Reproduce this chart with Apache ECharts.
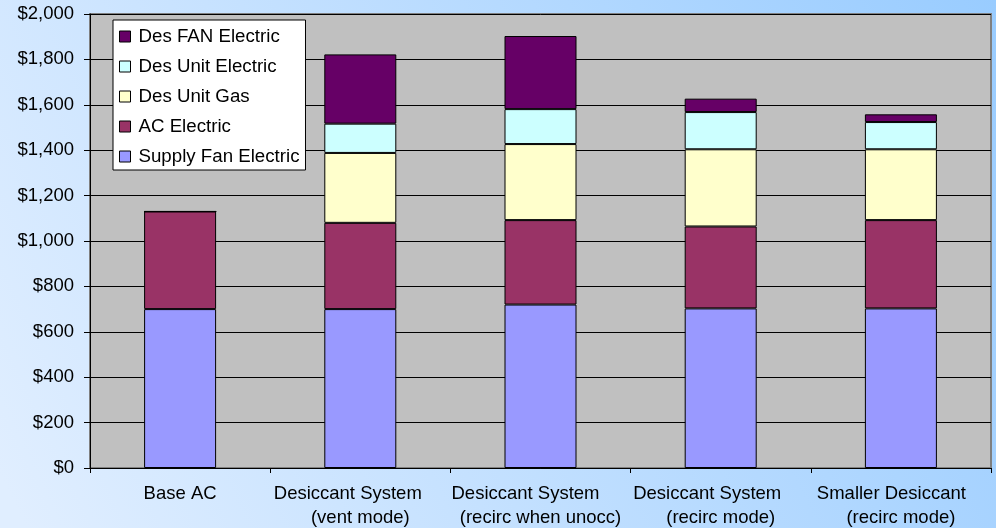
<!DOCTYPE html>
<html>
<head>
<meta charset="utf-8">
<script src="https://cdn.jsdelivr.net/npm/echarts@6/dist/echarts.min.js"></script>
<style>
html,body{margin:0;padding:0;}
#c{width:996px;height:528px;}
</style>
</head>
<body>
<div id="c"></div>
<script>
// ---- data ----
var categoryLine1 = ['Base AC', 'Desiccant System', 'Desiccant System', 'Desiccant System', 'Smaller Desiccant'];
var categoryLine2 = ['', '(vent mode)', '(recirc when unocc)', '(recirc mode)', '(recirc mode)'];
var supplyFanElectric = [700, 700, 720, 703, 703];
var acElectric = [430, 380, 372, 361, 389];
var desUnitGas = [0, 308, 335, 340, 312];
var desUnitElectric = [0, 129, 154, 164, 120];
var desFanElectric = [0, 305, 322, 59, 34];
var yTicks = [0, 200, 400, 600, 800, 1000, 1200, 1400, 1600, 1800, 2000];

// ---- styling ----
var line1ShiftPad = [0, 25, 30, 27, 19];
var FONT = 'Liberation Sans, Arial, sans-serif';
var FS = 18.5;

var categories = categoryLine1.map(function (c, i) { return c + (categoryLine2[i] ? '\n' + categoryLine2[i] : ''); });

function barSeries(name, data, color) {
  return {
    name: name, type: 'bar', stack: 'total', data: data,
    barWidth: 72,
    itemStyle: { color: color, borderColor: '#000', borderWidth: 1 },
    emphasis: { disabled: true }
  };
}

var chart = echarts.init(document.getElementById('c'));
chart.setOption({
  animation: false,
  backgroundColor: {
    type: 'linear', x: 0, y: 0.9, x2: 1, y2: 0,
    colorStops: [{ offset: 0, color: '#e0eeff' }, { offset: 1, color: '#99ccff' }]
  },
  textStyle: { fontFamily: FONT },
  grid: {
    left: 90, right: 5, top: 14, bottom: 60,
    outerBoundsMode: 'none', containLabel: false,
    show: true, backgroundColor: '#c0c0c0', borderColor: '#808080', borderWidth: 2
  },
  legend: {
    orient: 'vertical', left: 113, top: 20,
    data: ['Des FAN Electric', 'Des Unit Electric', 'Des Unit Gas', 'AC Electric', 'Supply Fan Electric'],
    backgroundColor: '#ffffff', borderColor: '#000', borderWidth: 1,
    padding: [7, 6, 4, 6],
    itemWidth: 11, itemHeight: 11, itemGap: 11,
    icon: 'rect',
    itemStyle: { borderColor: '#000', borderWidth: 1 },
    textStyle: { fontSize: 18.7, color: '#000', fontFamily: FONT, lineHeight: 18, padding: [0, 0, 0, 3] }
  },
  xAxis: {
    type: 'category', data: categories,
    axisLine: { lineStyle: { color: '#000', width: 1 } },
    axisTick: { show: true, length: 5, lineStyle: { color: '#000' } },
    axisLabel: {
      interval: 0, margin: 14, color: '#000', fontSize: FS, fontFamily: FONT, lineHeight: 24,
      formatter: function (v, i) {
        var s = '{a' + i + '|' + categoryLine1[i] + '}';
        if (categoryLine2[i]) s += '\n{b|' + categoryLine2[i] + '}';
        return s;
      },
      rich: (function () {
        var r = { b: { fontSize: FS, fontFamily: FONT, color: '#000', lineHeight: 24 } };
        line1ShiftPad.forEach(function (p, i) {
          r['a' + i] = { fontSize: FS, fontFamily: FONT, color: '#000', lineHeight: 24, padding: [0, p, 0, 0] };
        });
        return r;
      })()
    }
  },
  yAxis: {
    type: 'value', min: yTicks[0], max: yTicks[yTicks.length - 1], interval: yTicks[1] - yTicks[0],
    axisLine: { show: true, lineStyle: { color: '#000', width: 1 } },
    axisTick: { show: true, inside: false, length: 6, lineStyle: { color: '#000' } },
    splitLine: { show: true, lineStyle: { color: '#000', width: 1 } },
    axisLabel: {
      margin: 16, color: '#000', fontSize: FS, fontFamily: FONT,
      formatter: function (v) { return '$' + v.toLocaleString('en-US'); }
    }
  },
  series: [
    barSeries('Supply Fan Electric', supplyFanElectric, '#9999ff'),
    barSeries('AC Electric', acElectric, '#993366'),
    barSeries('Des Unit Gas', desUnitGas, '#ffffcc'),
    barSeries('Des Unit Electric', desUnitElectric, '#ccffff'),
    barSeries('Des FAN Electric', desFanElectric, '#660066')
  ]
});
</script>
</body>
</html>
